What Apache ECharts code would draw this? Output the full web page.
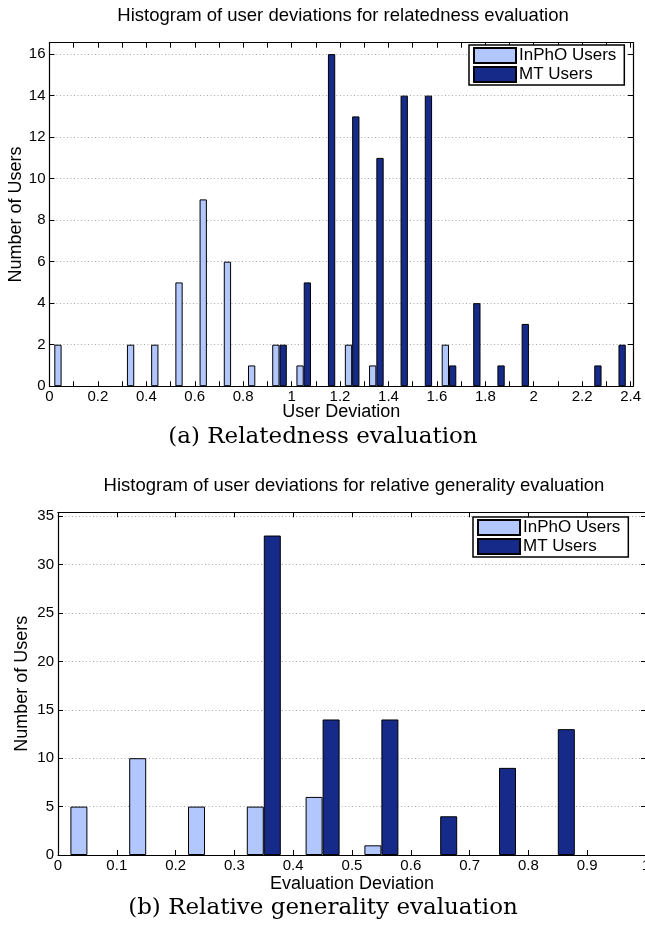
<!DOCTYPE html>
<html>
<head>
<meta charset="utf-8">
<script src="https://cdn.jsdelivr.net/npm/echarts@6/dist/echarts.min.js"></script>
<style>html,body{margin:0;padding:0;background:#fff}#c{width:645px;height:927px}</style>
</head>
<body>
<div id="c"></div>
<script>
// Relatedness evaluation histogram (bin centres and counts)
const relInphoX = [0.05, 0.35, 0.45, 0.55, 0.65, 0.75, 0.85, 0.95, 1.05, 1.25, 1.35, 1.65];
const relInphoY = [2, 2, 2, 5, 9, 6, 1, 2, 1, 2, 1, 2];
const relMtX = [0.95, 1.05, 1.15, 1.25, 1.35, 1.45, 1.55, 1.65, 1.75, 1.85, 1.95, 2.25, 2.35];
const relMtY = [2, 5, 16, 13, 11, 14, 14, 1, 4, 1, 3, 1, 2];
// Relative generality evaluation histogram
const genInphoX = [0.05, 0.15, 0.25, 0.35, 0.45, 0.55];
const genInphoY = [5, 10, 5, 5, 6, 1];
const genMtX = [0.35, 0.45, 0.55, 0.65, 0.75, 0.85];
const genMtY = [33, 14, 14, 4, 9, 13];

const seriesNames = ['InPhO Users', 'MT Users'];
const titles = ['Histogram of user deviations for relatedness evaluation',
                'Histogram of user deviations for relative generality evaluation'];
const captions = ['(a) Relatedness evaluation', '(b) Relative generality evaluation'];
const xNames = ['User Deviation', 'Evaluation Deviation'];
const yName = 'Number of Users';

const LIGHT = '#b3c7ff';
const DARK = '#162a8a';
const SANS = '"Liberation Sans", Arial, sans-serif';
const SERIF = '"DejaVu Serif", serif';

const pairs = (xs, ys) => xs.map((x, i) => [x, ys[i]]);
const fmt = v => String(+(+v).toFixed(1));

const lineStyle = { color: '#000', width: 1.2 };
const tickIn = { show: true, inside: true, length: 5, lineStyle: { color: '#000', width: 1 } };
const dotted = { show: true, lineStyle: { color: '#a8a8a8', type: [1, 2.5], width: 1 } };

function xMain(grid, max, name, gap, formatter) {
  return {
    gridIndex: grid, type: 'value', min: 0, max: max, interval: 0.1, position: 'bottom',
    axisLine: { show: true, onZero: false, lineStyle },
    axisTick: tickIn, splitLine: { show: false },
    axisLabel: { show: true, color: '#000', fontSize: 15, fontFamily: SANS, margin: 3,
                 showMaxLabel: max === 1, hideOverlap: false, formatter: formatter },
    name: name, nameLocation: 'middle', nameGap: gap, nameMoveOverlap: false,
    nameTextStyle: { color: '#000', fontSize: 18, fontFamily: SANS }
  };
}
function xTop(grid, max) {
  return {
    gridIndex: grid, type: 'value', min: 0, max: max, interval: 0.1, position: 'top',
    axisLine: { show: true, onZero: false, lineStyle },
    axisTick: tickIn, axisLabel: { show: false }, splitLine: { show: false }
  };
}
function yMain(grid, max, interval, gap) {
  return {
    gridIndex: grid, type: 'value', min: 0, max: max, interval: interval, position: 'left',
    axisLine: { show: true, onZero: false, lineStyle },
    axisTick: tickIn, splitLine: dotted,
    axisLabel: { show: true, color: '#000', fontSize: 15, fontFamily: SANS, margin: 4, showMaxLabel: false },
    name: yName, nameLocation: 'middle', nameGap: gap, nameMoveOverlap: false,
    nameTextStyle: { color: '#000', fontSize: 18, fontFamily: SANS }
  };
}
function yRight(grid, max, interval) {
  return {
    gridIndex: grid, type: 'value', min: 0, max: max, interval: interval, position: 'right',
    axisLine: { show: true, onZero: false, lineStyle },
    axisTick: tickIn, axisLabel: { show: false }, splitLine: { show: false }
  };
}
function bar(name, color, data, xi, yi, w) {
  return {
    type: 'bar', name: name, xAxisIndex: xi, yAxisIndex: yi, data: data,
    barWidth: w, barGap: '0%',
    itemStyle: { color: color, borderColor: '#000', borderWidth: 1 },
    emphasis: { disabled: true }, animation: false
  };
}
function legend(left, top) {
  return {
    data: seriesNames, orient: 'vertical', left: left, top: top,
    itemWidth: 42, itemHeight: 15, itemGap: 2,
    padding: [2, 8, 2, 4], borderColor: '#000', borderWidth: 1.5, borderRadius: 0,
    backgroundColor: '#fff', icon: 'rect',
    textStyle: { color: '#000', fontSize: 17, lineHeight: 16, fontFamily: SANS, padding: [0, 0, 0, -2] },
    selectedMode: false
  };
}

const relFmt = v => (Math.round(v * 10) % 2 === 0 ? fmt(v) : '');

const option = {
  animation: false,
  backgroundColor: '#fff',
  grid: [
    { left: 49.5, top: 42.7, width: 583.5, height: 343.5, containLabel: false, outerBoundsMode: 'none' },
    { left: 58, top: 512.3, width: 588, height: 342.7, containLabel: false, outerBoundsMode: 'none' }
  ],
  xAxis: [
    xMain(0, 2.41, xNames[0], 17, relFmt),
    xTop(0, 2.41),
    xMain(1, 1, xNames[1], 20, v => fmt(v)),
    xTop(1, 1)
  ],
  yAxis: [
    yMain(0, 16.55, 2, 24),
    yRight(0, 16.55, 2),
    yMain(1, 35.4, 5, 27),
    yRight(1, 35.4, 5)
  ],
  legend: [legend(469, 45), legend(473, 517)],
  series: [
    bar(seriesNames[0], LIGHT, pairs(relInphoX, relInphoY), 0, 0, 7.3),
    bar(seriesNames[1], DARK, pairs(relMtX, relMtY), 0, 0, 7.3),
    bar(seriesNames[0], LIGHT, pairs(genInphoX, genInphoY), 2, 2, 17),
    bar(seriesNames[1], DARK, pairs(genMtX, genMtY), 2, 2, 17)
  ],
  graphic: [
    { type: 'text', x: 343, y: 16, style: { text: titles[0], font: '18.5px ' + SANS, fill: '#000', textAlign: 'center', textVerticalAlign: 'middle' } },
    { type: 'text', x: 354, y: 486, style: { text: titles[1], font: '18.5px ' + SANS, fill: '#000', textAlign: 'center', textVerticalAlign: 'middle' } },
    { type: 'text', x: 323, y: 437, style: { text: captions[0], font: '23px ' + SERIF, fill: '#000', textAlign: 'center', textVerticalAlign: 'middle' } },
    { type: 'text', x: 323, y: 908, style: { text: captions[1], font: '23px ' + SERIF, fill: '#000', textAlign: 'center', textVerticalAlign: 'middle' } }
  ]
};

const chart = echarts.init(document.getElementById('c'), null, { renderer: 'canvas' });
chart.setOption(option);
</script>
</body>
</html>
